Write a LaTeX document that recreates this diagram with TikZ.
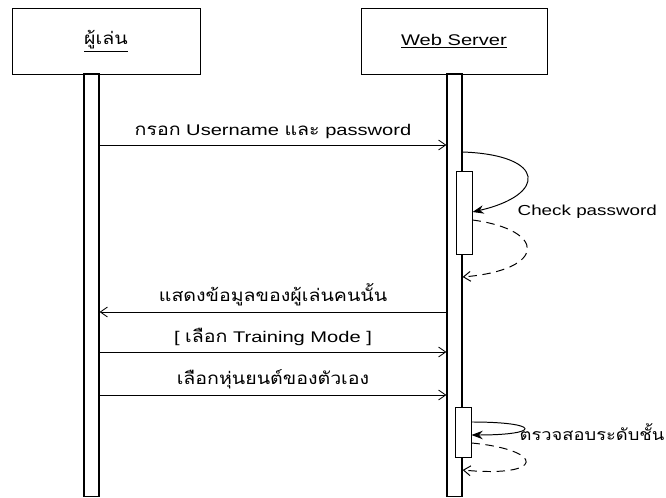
\documentclass[tikz,border=0pt]{standalone}
\usepackage{fontspec}
\setmainfont[FakeStretch=1.3]{Liberation Sans}
\newfontfamily\thaifont[Script=Thai, Scale=1.1, FakeStretch=1.15]{Loma}
\usetikzlibrary{arrows.meta}

\begin{document}
\begin{tikzpicture}[
  font=\fontsize{11}{13}\selectfont,
  obj/.style={draw, line width=0.7pt, minimum height=1.65cm,
              inner sep=0pt, align=center},
  bar/.style={draw, line width=0.9pt, fill=white, minimum width=0.375cm,
              inner sep=0pt},
  act/.style={draw, line width=0.7pt, fill=white, minimum width=0.4cm,
              inner sep=0pt},
  msg/.style={-{Straight Barb[length=5pt, width=7pt]}, line width=0.6pt},
  self/.style={-{Stealth[length=8pt, width=6pt]}, line width=0.7pt},
  ret/.style={-{Straight Barb[length=5pt, width=7pt]}, line width=0.7pt,
              dash pattern=on 6pt off 4pt},
  lbl/.style={above, inner sep=4pt},
  note/.style={anchor=west, inner sep=1pt, font=\fontsize{10.3}{12}\selectfont}
]
\useasboundingbox (0,0) rectangle (16.65,-12.45);

% objects
\node[obj, minimum width=4.7cm] (player) at (2.65,-1.025)
  {\thaifont\underline{ผู้เล่น}};
\node[obj, minimum width=4.65cm] (server) at (11.35,-1.025)
  {\underline{Web Server}};

% lifelines
\node[bar, minimum height=10.57cm] (lbar) at (2.2875,-7.135) {};
\node[bar, minimum height=10.57cm] (rbar) at (11.3625,-7.135) {};

% activations
\node[act, minimum height=2.075cm] (act1) at (11.6,-5.3125) {};
\node[act, minimum height=1.25cm] (act2) at (11.575,-10.8) {};

% messages
\draw[msg] (lbar.east |- 0,-3.625) -- node[lbl]
  {{\thaifont กรอก} Username {\thaifont และ} password}
  (rbar.west |- 0,-3.625);
\draw[msg] (rbar.west |- 0,-7.8) -- node[lbl]
  {\thaifont แสดงข้อมูลของผู้เล่นคนนั้น}
  (lbar.east |- 0,-7.8);
\draw[msg] (lbar.east |- 0,-8.8) -- node[lbl]
  {[ {\thaifont เลือก} Training Mode ]}
  (rbar.west |- 0,-8.8);
\draw[msg] (lbar.east |- 0,-9.875) -- node[lbl]
  {\thaifont เลือกหุ่นยนต์ของตัวเอง}
  (rbar.west |- 0,-9.875);

% check password
\draw[self] (rbar.east |- 0,-3.8)
  .. controls (13.675,-3.875) and (13.675,-4.875) .. (act1.east |- 0,-5.3);
\draw[ret] (act1.east |- 0,-5.5)
  .. controls (13.675,-5.75) and (13.675,-6.75) .. (rbar.east |- 0,-6.925);
\node[note] (chk) at (12.9,-5.3) {Check password};

% level check
\draw[self] (act2.east |- 0,-10.55)
  .. controls (13.54,-10.55) and (13.54,-10.875) .. (act2.east |- 0,-10.875);
\draw[ret] (act2.east |- 0,-11.075)
  .. controls (13.64,-11.25) and (13.64,-11.95) .. (rbar.east |- 0,-11.75);
\node[note] (lvl) at (12.95,-10.8) {\thaifont ตรวจสอบระดับชั้น};

\end{tikzpicture}
\end{document}
